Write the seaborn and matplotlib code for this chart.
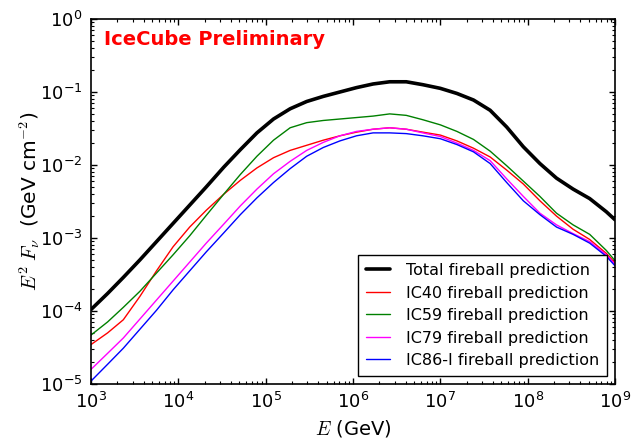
import numpy as np
import pandas as pd
import matplotlib
matplotlib.use("Agg")
import matplotlib.pyplot as plt
import seaborn as sns

# log10 of neutrino energy (GeV)
log_energy = [3.00, 3.19, 3.37, 3.56, 3.75, 3.94, 4.13, 4.32, 4.52, 4.71, 4.90,
              5.09, 5.28, 5.47, 5.66, 5.85, 6.04, 6.23, 6.42, 6.61, 6.80, 7.00,
              7.19, 7.38, 7.57, 7.76, 7.95, 8.14, 8.33, 8.52, 8.71, 8.90, 9.00]

# log10 of E^2 F_nu (GeV cm^-2) for each prediction
log_total = [-3.98, -3.76, -3.54, -3.30, -3.05, -2.80, -2.55, -2.30, -2.03, -1.79, -1.56,
             -1.37, -1.23, -1.13, -1.06, -1.00, -0.94, -0.89, -0.86, -0.86, -0.90, -0.95,
             -1.02, -1.11, -1.25, -1.48, -1.75, -1.98, -2.18, -2.33, -2.46, -2.64, -2.75]
log_ic40 = [-4.46, -4.30, -4.12, -3.80, -3.45, -3.12, -2.85, -2.62, -2.40, -2.21, -2.04,
            -1.90, -1.80, -1.73, -1.66, -1.60, -1.55, -1.51, -1.49, -1.51, -1.55, -1.59,
            -1.67, -1.77, -1.89, -2.07, -2.26, -2.49, -2.70, -2.88, -3.02, -3.21, -3.34]
log_ic59 = [-4.33, -4.15, -3.95, -3.73, -3.48, -3.23, -2.97, -2.69, -2.40, -2.13, -1.88,
            -1.66, -1.49, -1.42, -1.39, -1.37, -1.35, -1.33, -1.30, -1.32, -1.38, -1.45,
            -1.54, -1.65, -1.81, -2.01, -2.22, -2.43, -2.66, -2.82, -2.95, -3.17, -3.31]
log_ic79 = [-4.80, -4.58, -4.37, -4.11, -3.85, -3.59, -3.33, -3.07, -2.81, -2.56, -2.33,
            -2.12, -1.95, -1.80, -1.69, -1.60, -1.54, -1.51, -1.49, -1.51, -1.56, -1.61,
            -1.70, -1.80, -1.94, -2.19, -2.43, -2.66, -2.82, -2.94, -3.05, -3.23, -3.36]
log_ic86 = [-4.96, -4.73, -4.51, -4.25, -3.99, -3.71, -3.45, -3.19, -2.93, -2.68, -2.45,
            -2.24, -2.05, -1.88, -1.76, -1.67, -1.60, -1.56, -1.56, -1.57, -1.60, -1.64,
            -1.72, -1.82, -1.98, -2.24, -2.49, -2.68, -2.85, -2.95, -3.07, -3.25, -3.38]

labels = ["Total fireball prediction", "IC40 fireball prediction",
          "IC59 fireball prediction", "IC79 fireball prediction",
          "IC86-I fireball prediction"]
colors = ["black", "red", "green", "magenta", "blue"]
widths = [2.6, 1.0, 1.0, 1.0, 1.0]
curves = [log_total, log_ic40, log_ic59, log_ic79, log_ic86]

sns.set_style("ticks")
plt.rcParams.update({
    "font.family": ["DejaVu Sans"],
    "mathtext.fontset": "cm",
    "axes.unicode_minus": False,
    "text.color": "black",
    "axes.labelcolor": "black",
    "axes.edgecolor": "black",
    "xtick.color": "black",
    "ytick.color": "black",
    "xtick.direction": "in",
    "ytick.direction": "in",
    "xtick.top": True,
    "ytick.right": True,
    "xtick.major.size": 4.5,
    "ytick.major.size": 4.5,
    "xtick.minor.size": 2.2,
    "ytick.minor.size": 2.2,
    "xtick.major.pad": 6,
    "ytick.major.pad": 6,
    "axes.linewidth": 1.2,
    "lines.solid_joinstyle": "round",
})

fig = plt.figure(figsize=(6.36, 4.41), dpi=100)
ax = fig.add_axes([91 / 636, 57 / 441, 524 / 636, 365 / 441])

energy = np.power(10.0, log_energy)
for name, logf, color, lw in zip(labels, curves, colors, widths):
    df = pd.DataFrame({"E": energy, "flux": np.power(10.0, logf)})
    sns.lineplot(data=df, x="E", y="flux", ax=ax, color=color, linewidth=lw,
                 label=name, sort=False)

ax.set_xscale("log")
ax.set_yscale("log")
ax.set_xlim(1e3, 1e9)
ax.set_ylim(1e-5, 1e0)
ax.set_xticks([1e3, 1e4, 1e5, 1e6, 1e7, 1e8, 1e9])
ax.set_yticks([1e-5, 1e-4, 1e-3, 1e-2, 1e-1, 1e0])
ax.xaxis.set_minor_locator(matplotlib.ticker.LogLocator(base=10, subs=np.arange(2, 10), numticks=20))
ax.yaxis.set_minor_locator(matplotlib.ticker.LogLocator(base=10, subs=np.arange(2, 10), numticks=20))
ax.xaxis.set_minor_formatter(matplotlib.ticker.NullFormatter())
ax.yaxis.set_minor_formatter(matplotlib.ticker.NullFormatter())
ax.tick_params(axis="both", which="major", labelsize=13, width=1.0,
               color="black", labelcolor="black")
ax.tick_params(axis="both", which="minor", width=0.8, color="black")
for s in ax.spines.values():
    s.set_color("black")

ax.set_xlabel(r"$E$ (GeV)", fontsize=14, labelpad=4, color="black")
ax.set_ylabel(r"$E^2\;F_\nu$  (GeV cm$^{-2}$)", fontsize=14.5, labelpad=-1.5, color="black")

ax.text(0.025, 0.929, "IceCube Preliminary", transform=ax.transAxes,
        color="red", fontsize=14, fontweight="bold", va="baseline", ha="left")

leg = ax.legend(loc="lower right", fontsize=11.5, frameon=True, fancybox=False,
                framealpha=1, edgecolor="black", borderaxespad=0.5,
                handlelength=1.5, handletextpad=1.0, labelspacing=0.47, borderpad=0.5,
                labelcolor="black")
leg.get_frame().set_linewidth(1.0)

fig.savefig("out.png", dpi=100)
